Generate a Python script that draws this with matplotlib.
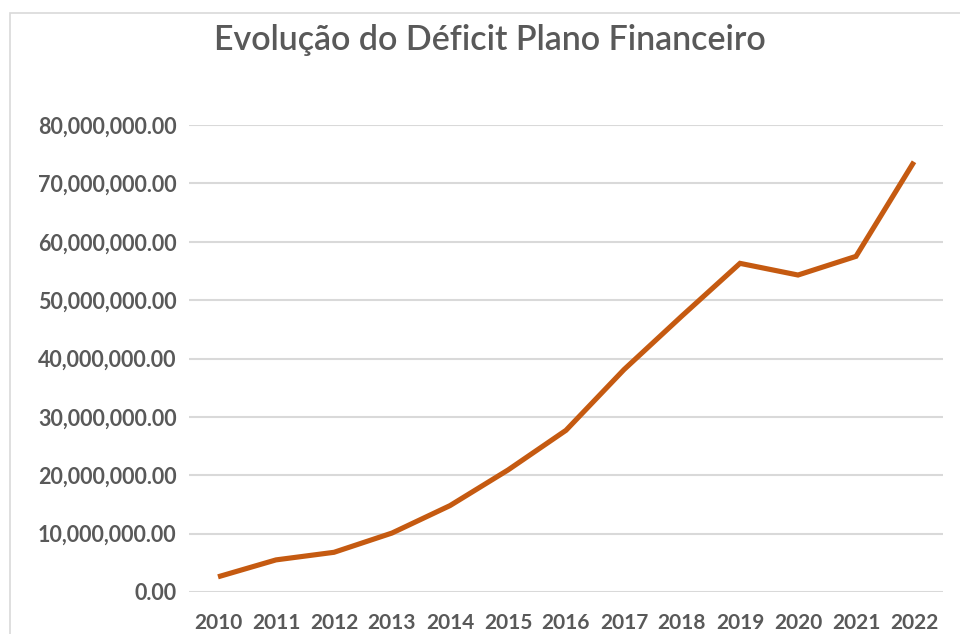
import matplotlib
matplotlib.use("Agg")
import matplotlib.pyplot as plt
from matplotlib.patches import Rectangle
from matplotlib.ticker import FuncFormatter

years = ["2010", "2011", "2012", "2013", "2014", "2015", "2016",
         "2017", "2018", "2019", "2020", "2021", "2022"]
deficit = [2.6e6, 5.5e6, 6.8e6, 10.1e6, 14.8e6, 20.9e6, 27.7e6,
           38.1e6, 47.3e6, 56.3e6, 54.3e6, 57.5e6, 73.7e6]
yticks = [0, 10e6, 20e6, 30e6, 40e6, 50e6, 60e6, 70e6, 80e6]

text_color = "#595959"
line_color = "#C55A11"
grid_color = "#D9D9D9"

plt.rcParams['font.family'] = ['Lato', 'DejaVu Sans']

fig = plt.figure(figsize=(9.6, 6.34), dpi=100)
fig.patch.set_facecolor("white")

# chart area border (light gray, partly cut off like the screenshot)
fig.patches.append(Rectangle((10 / 960, -0.05), 1.1, (634 - 13) / 634 + 0.05,
                             transform=fig.transFigure, fill=False,
                             edgecolor="#D9D9D9", linewidth=1.2))

ax = fig.add_axes([189 / 960, 42 / 634, 754 / 960, 467 / 634])
x = list(range(len(years)))
ax.plot(x, deficit, color=line_color, linewidth=3.7, solid_capstyle="butt",
        solid_joinstyle="miter", zorder=3)

ax.set_xlim(-0.5, len(years) - 0.5)
ax.set_ylim(0, 80e6)
ax.set_xticks(x)
ax.set_xticklabels(years)
ax.set_yticks(yticks)
ax.yaxis.set_major_formatter(FuncFormatter(lambda v, p: f"{v:,.2f}"))

for s in ax.spines.values():
    s.set_visible(False)
ax.grid(axis="y", color=grid_color, linewidth=1.5, zorder=0)
ax.set_axisbelow(True)
ax.tick_params(axis="both", length=0, colors=text_color, labelsize=15.5)
ax.tick_params(axis="y", pad=9)
ax.tick_params(axis="x", labelsize=15, pad=15)
for lab in ax.get_xticklabels() + ax.get_yticklabels():
    lab.set_fontweight("bold")

fig.text(490 / 960, 1 - 40 / 634, "Evolução do Déficit Plano Financeiro",
         ha="center", va="center", fontsize=24.5, fontweight="semibold",
         color=text_color)

plt.savefig("out.png", dpi=100)
